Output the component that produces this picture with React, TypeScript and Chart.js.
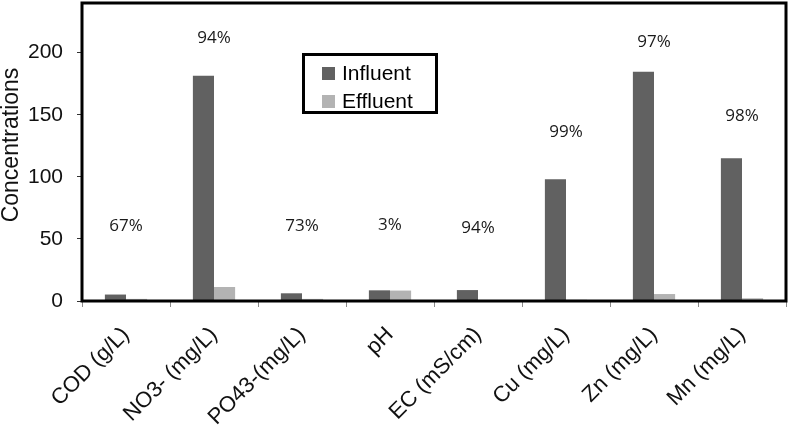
import { useEffect, useRef } from 'react';
import { Chart, registerables } from 'chart.js';

Chart.register(...registerables);

// ---- data ----
const categories = ['COD (g/L)', 'NO3- (mg/L)', 'PO43-(mg/L)', 'pH', 'EC (mS/cm)', 'Cu (mg/L)', 'Zn (mg/L)', 'Mn (mg/L)'];
const influent = [5.2, 181.5, 6.2, 8.6, 8.8, 98, 184.7, 114.9];
const effluent = [1.7, 11.3, 1.7, 8.4, 0.5, 1, 5.6, 2.2];
const removal = ['67%', '94%', '73%', '3%', '94%', '99%', '97%', '98%'];
const removalLabelLevel = [60, 211.5, 60, 61, 58.6, 135.7, 208.8, 148.6];
const yTicks = [0, 50, 100, 150, 200];
const yMax = 240;
const yTitle = 'Concentrations';
const seriesNames = ['Influent', 'Effluent'];
const seriesColors = ['#616161', '#b3b3b3'];

const SANS = '"Liberation Sans", Arial, sans-serif';

const overlay = {
  id: 'overlay',
  afterDraw(chart: any) {
    const { ctx, chartArea: a, scales } = chart;
    const xs = scales.x;
    const ys = scales.y;
    ctx.save();

    // y axis title
    ctx.save();
    ctx.translate(12, 145);
    ctx.rotate(-Math.PI / 2);
    ctx.font = '23px ' + SANS;
    ctx.fillStyle = '#111';
    ctx.textAlign = 'center';
    ctx.textBaseline = 'middle';
    ctx.fillText(yTitle, 0, 0);
    ctx.restore();

    // removal percentages
    ctx.font = '17px "Open Sans", sans-serif';
    ctx.fillStyle = '#1a1a1a';
    ctx.textAlign = 'center';
    ctx.textBaseline = 'middle';
    removal.forEach((t, i) => {
      ctx.fillText(t, xs.getPixelForValue(i), ys.getPixelForValue(removalLabelLevel[i]));
    });

    // frame around plot area
    ctx.strokeStyle = '#000';
    ctx.lineWidth = 3;
    ctx.strokeRect(a.left, a.top, a.right - a.left, a.bottom - a.top);

    // legend box
    ctx.fillStyle = '#fff';
    ctx.fillRect(303.5, 54.5, 133, 58);
    ctx.strokeRect(303.5, 54.5, 133, 58);
    ctx.font = '21px ' + SANS;
    ctx.textAlign = 'left';
    ctx.textBaseline = 'alphabetic';
    chart.data.datasets.forEach((ds: any, i: number) => {
      const top = 67 + i * 28;
      ctx.fillStyle = ds.backgroundColor;
      ctx.fillRect(322, top, 13, 13);
      ctx.fillStyle = '#000';
      ctx.fillText(ds.label, 342, top + 13);
    });

    ctx.restore();
  },
};

export default function App() {
  const ref = useRef<HTMLCanvasElement | null>(null);

  useEffect(() => {
    document.body.style.margin = '0';
    const canvas = ref.current;
    if (!canvas) return;
    const chart = new Chart(canvas, {
      type: 'bar',
      data: {
        labels: categories,
        datasets: [
          { label: seriesNames[0], data: influent, backgroundColor: seriesColors[0], borderWidth: 0 },
          { label: seriesNames[1], data: effluent, backgroundColor: seriesColors[1], borderWidth: 0 },
        ],
      },
      options: {
        responsive: false,
        animation: false,
        devicePixelRatio: 1,
        layout: { padding: { top: 3, right: 4, left: 0, bottom: 0 } },
        plugins: {
          legend: { display: false },
          tooltip: { enabled: false },
        },
        datasets: {
          bar: { categoryPercentage: 0.48, barPercentage: 1 },
        },
        scales: {
          x: {
            grid: {
              offset: true,
              drawOnChartArea: false,
              drawTicks: true,
              tickLength: 6,
              color: '#8a8a8a',
            },
            border: { display: false },
            ticks: {
              autoSkip: false,
              minRotation: 45,
              maxRotation: 45,
              padding: 15,
              color: '#111',
              font: { family: SANS, size: 22 },
            },
            afterFit: (scale: any) => {
              scale.height = 126;
              scale.paddingLeft = 0;
              scale.paddingRight = 0;
            },
          },
          y: {
            min: 0,
            max: yMax,
            grid: {
              drawOnChartArea: false,
              drawTicks: true,
              tickLength: 5,
              color: '#333',
            },
            border: { display: false },
            ticks: {
              padding: 14,
              color: '#111',
              font: { family: SANS, size: 21 },
            },
            afterBuildTicks: (scale: any) => {
              scale.ticks = yTicks.map((v) => ({ value: v }));
            },
            afterFit: (scale: any) => {
              scale.width = 82;
              scale.paddingTop = 0;
              scale.paddingBottom = 0;
            },
            title: { display: false },
          },
        },
      },
      plugins: [overlay],
    });
    return () => chart.destroy();
  }, []);

  return (
    <div style={{ position: 'absolute', left: 0, top: 0, width: 790, height: 427 }}>
      <canvas ref={ref} width={790} height={427} style={{ display: 'block' }} />
    </div>
  );
}
